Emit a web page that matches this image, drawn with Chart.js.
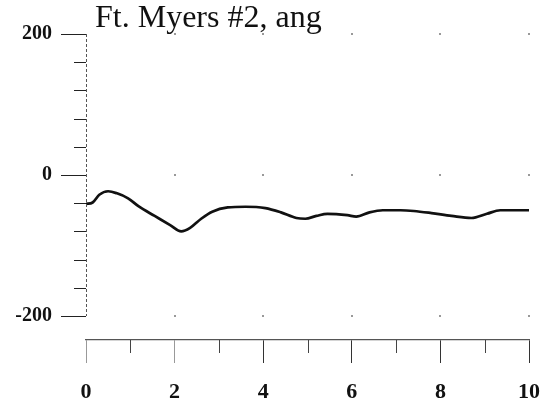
<!DOCTYPE html>
<html>
<head>
<meta charset="utf-8">
<script src="https://cdn.jsdelivr.net/npm/chart.js@4/dist/chart.umd.min.js"></script>
<style>
  html, body { margin: 0; padding: 0; background: #fff; }
  #wrap { width: 556px; height: 402px; position: relative; }
</style>
</head>
<body>
<div id="wrap"><canvas id="angChart"></canvas></div>
<script>
// Curve (time vs. angle)
const timeValues = [0, 0.15, 0.3, 0.5, 0.7, 0.95, 1.2, 1.55, 1.9, 2.15, 2.35, 2.6, 2.85, 3.2, 3.6, 4.05, 4.4, 4.75, 4.95, 5.2, 5.45, 5.9, 6.1, 6.4, 6.7, 7.1, 7.4, 7.8, 8.25, 8.7, 9.05, 9.35, 9.7, 10];
const angValues  = [-41, -39, -28, -23, -26, -33, -45, -58, -71, -80, -75, -62, -52, -46, -45, -47, -53, -61, -62, -58, -55, -57, -59, -53, -50, -50, -51, -54, -58, -61, -55, -50, -50, -50];

// Axis ticks
const xMajorTicks = [0, 2, 4, 6, 8, 10];
const xMinorTicks = [1, 3, 5, 7, 9];
const yMajorTicks = [-200, 0, 200];
const yMinorTicks = [-160, -120, -80, -40, 40, 80, 120, 160];

const chartTitle = 'Ft. Myers #2, ang';

// Extra axis pieces: dashed y line, minor ticks, grid dots, title
const axisDecor = {
  id: 'axisDecor',
  afterDraw(chart) {
    const { ctx, scales: { x, y } } = chart;
    const left = x.left;
    const bottom = x.top;
    ctx.save();

    // y axis line (broken, like the scan)
    ctx.strokeStyle = '#555';
    ctx.lineWidth = 1;
    ctx.setLineDash([3, 2]);
    ctx.beginPath();
    ctx.moveTo(left + 0.5, y.getPixelForValue(200));
    ctx.lineTo(left + 0.5, y.getPixelForValue(-200));
    ctx.stroke();
    ctx.setLineDash([]);

    // minor y ticks
    ctx.strokeStyle = '#222';
    yMinorTicks.forEach(v => {
      const py = Math.round(y.getPixelForValue(v)) + 0.5;
      ctx.beginPath();
      ctx.moveTo(left - 12, py);
      ctx.lineTo(left, py);
      ctx.stroke();
    });

    // minor x ticks
    ctx.strokeStyle = '#444';
    xMinorTicks.forEach(v => {
      const px = Math.round(x.getPixelForValue(v)) + 0.5;
      ctx.beginPath();
      ctx.moveTo(px, bottom);
      ctx.lineTo(px, bottom + 13);
      ctx.stroke();
    });

    // faint grid dots
    ctx.fillStyle = '#999';
    xMajorTicks.slice(1).forEach(xv => {
      yMajorTicks.forEach(yv => {
        ctx.fillRect(Math.round(x.getPixelForValue(xv)) - 1, Math.round(y.getPixelForValue(yv)) - 1, 2, 2);
      });
    });

    // title
    ctx.fillStyle = '#111';
    ctx.font = '32px "Liberation Serif", "Times New Roman", serif';
    ctx.textAlign = 'left';
    ctx.textBaseline = 'alphabetic';
    ctx.fillText(chartTitle, 95, 27);
    ctx.restore();
  }
};

const ctx = document.getElementById('angChart').getContext('2d');
new Chart(ctx, {
  type: 'line',
  data: {
    datasets: [{
      data: timeValues.map((t, i) => ({ x: t, y: angValues[i] })),
      borderColor: '#111',
      borderWidth: 2.7,
      pointRadius: 0,
      tension: 0.4,
      cubicInterpolationMode: 'monotone',
      fill: false
    }]
  },
  options: {
    responsive: true,
    maintainAspectRatio: false,
    animation: false,
    layout: { padding: { top: 34, right: 18, bottom: 0, left: 0 } },
    plugins: {
      legend: { display: false },
      tooltip: { enabled: false }
    },
    scales: {
      x: {
        type: 'linear',
        min: 0,
        max: 10,
        afterBuildTicks: s => { s.ticks = xMajorTicks.map(v => ({ value: v })); },
        afterFit: s => { s.height = 62; },
        border: { display: true, color: '#555', width: 1.3 },
        grid: {
          drawOnChartArea: false,
          tickLength: 23,
          tickWidth: 1,
          tickColor: c => (c.tick && c.tick.value <= 2 ? '#999' : '#333')
        },
        ticks: {
          autoSkip: false,
          maxRotation: 0,
          padding: 16,
          color: '#111',
          font: { family: '"Liberation Serif", "Times New Roman", serif', size: 22, weight: 'bold' }
        }
      },
      y: {
        min: -234,
        max: 200,
        afterBuildTicks: s => { s.ticks = yMajorTicks.map(v => ({ value: v })); },
        afterFit: s => { s.width = 86; },
        border: { display: false },
        grid: {
          drawOnChartArea: false,
          tickLength: 25,
          tickWidth: 1,
          tickColor: '#222'
        },
        ticks: {
          autoSkip: false,
          padding: 9,
          color: '#111',
          font: { family: '"Liberation Serif", "Times New Roman", serif', size: 20, weight: 'bold' }
        }
      }
    }
  },
  plugins: [axisDecor]
});
</script>
</body>
</html>
